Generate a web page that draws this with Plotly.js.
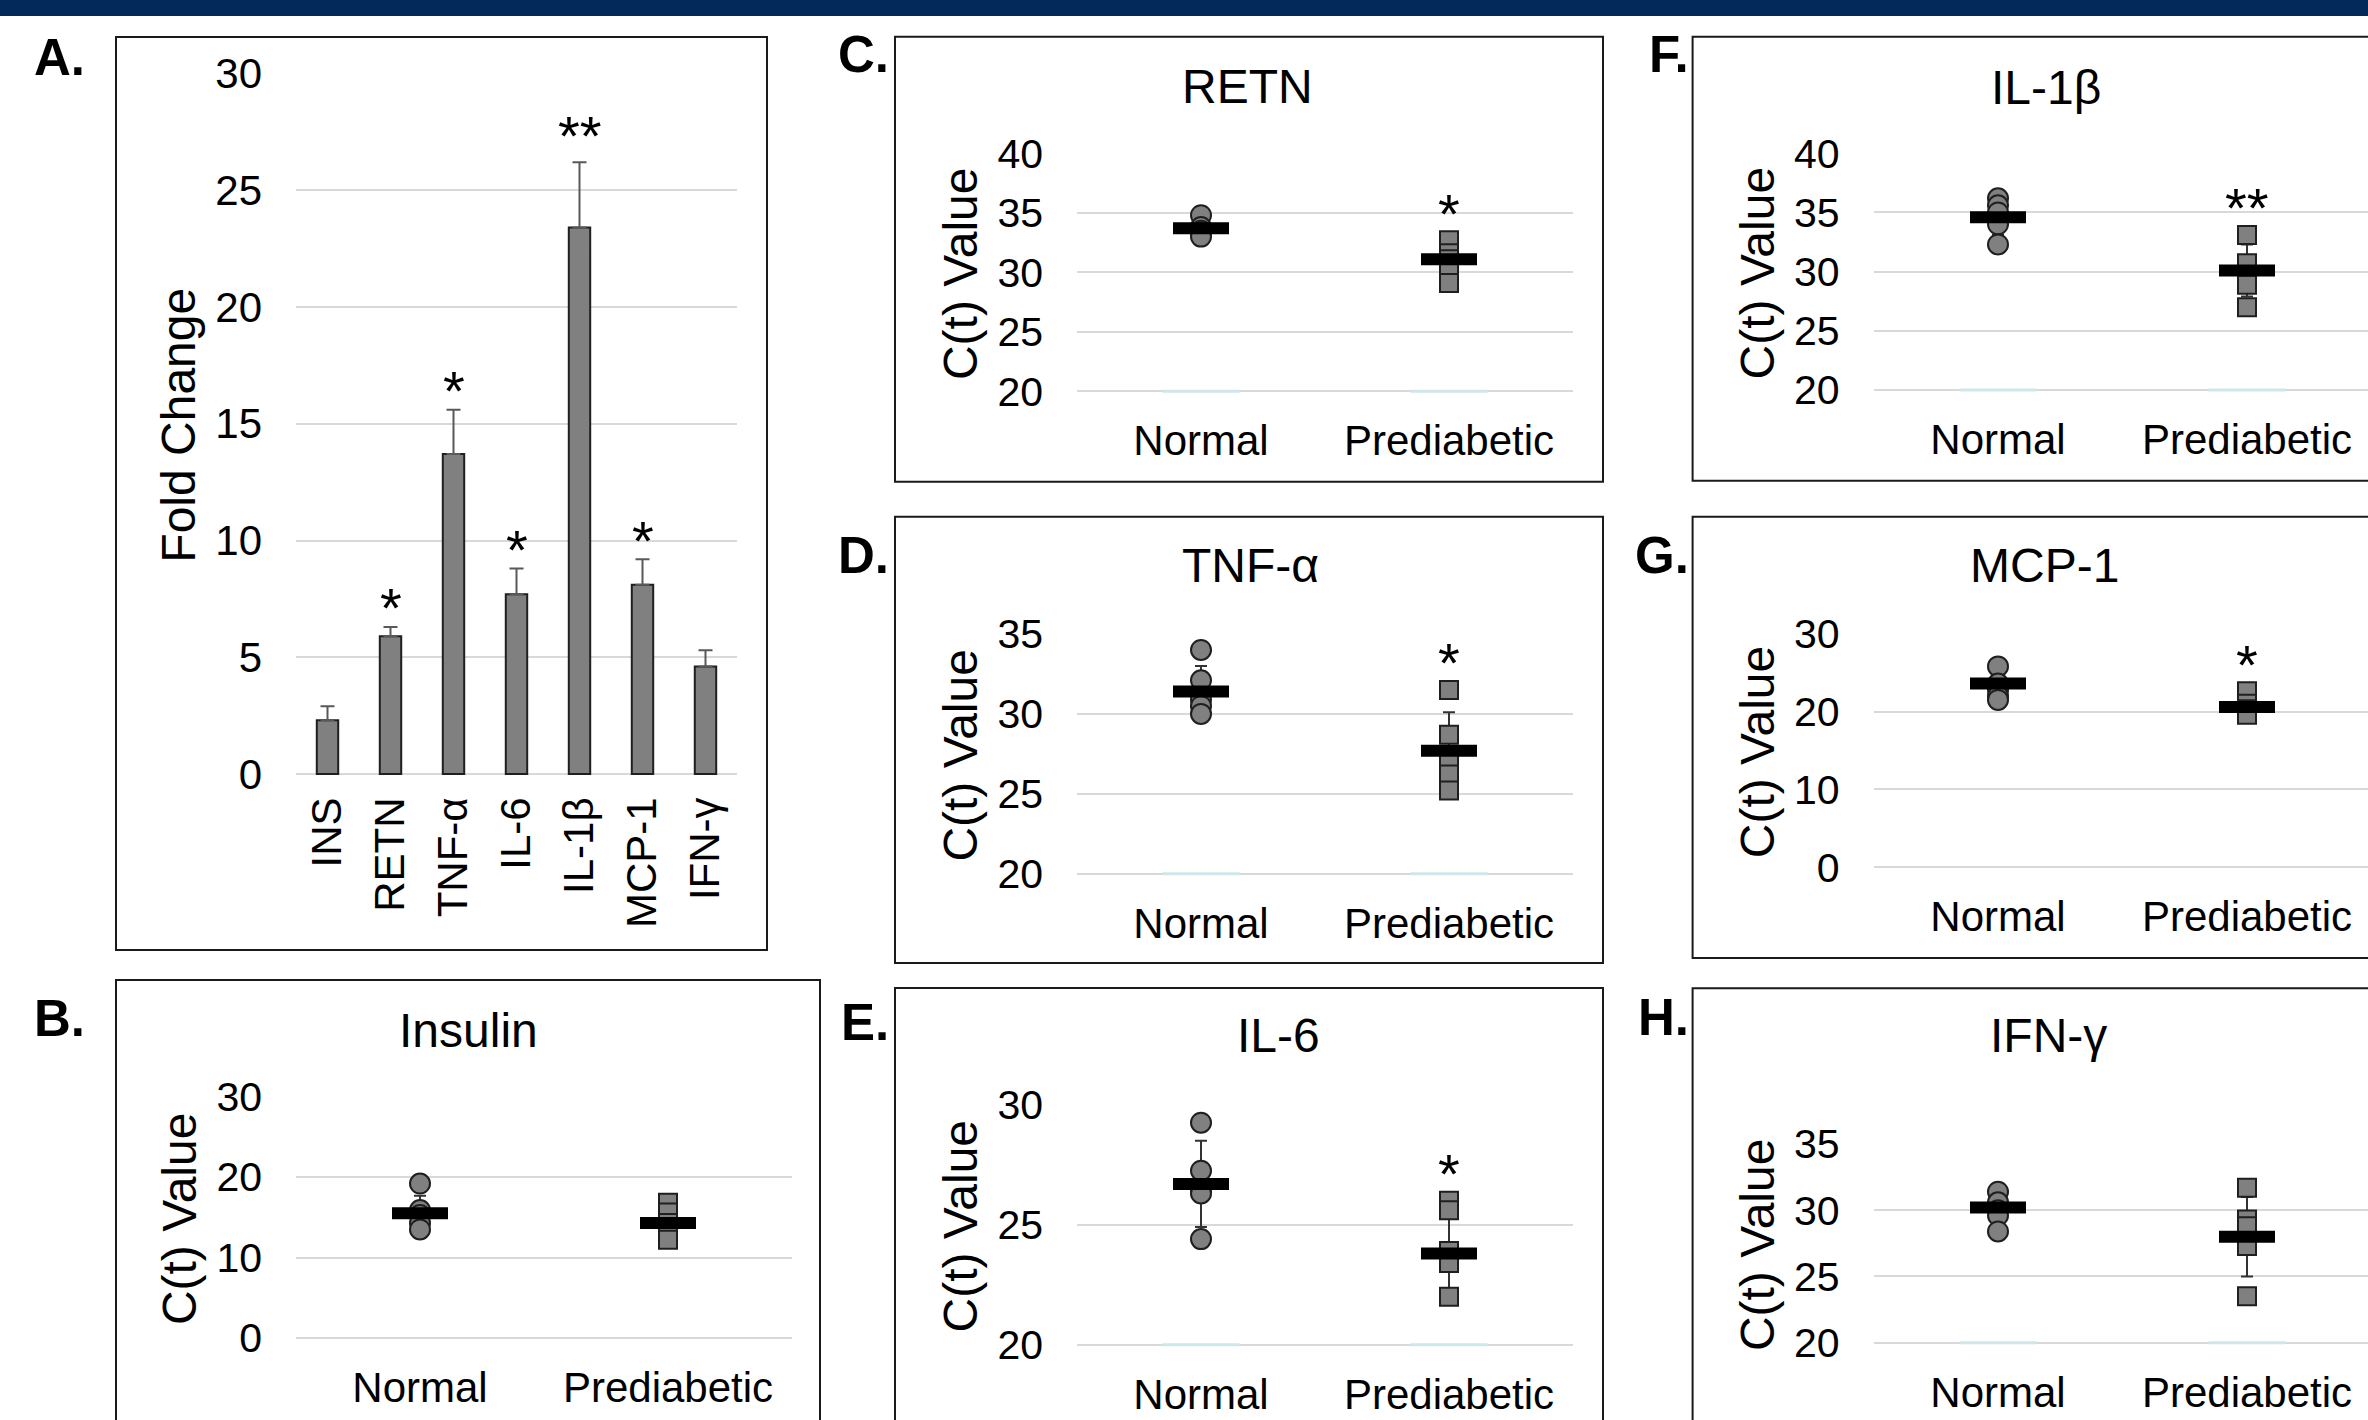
<!DOCTYPE html>
<html><head><meta charset="utf-8">
<script src="https://cdn.plot.ly/plotly-3.0.1.min.js"></script>
<style>html,body{margin:0;padding:0;background:#fff;overflow:hidden;} #chart{width:2368px;height:1420px;}</style>
</head><body><div id="chart"></div>
<script>
// ---------- Panel A: fold change ----------
const foldCats = ['INS', 'RETN', 'TNF-α', 'IL-6', 'IL-1β', 'MCP-1', 'IFN-γ'];
const foldChange = [2.3, 5.9, 13.7, 7.7, 23.4, 8.1, 4.6];
const foldSEM = [0.6, 0.4, 1.9, 1.1, 2.8, 1.1, 0.7];
const foldSig = ['', '*', '*', '*', '**', '*', ''];

// ---------- Panels B-H: C(t) values ----------
const groups = ['Normal', 'Prediabetic'];
const panelGenes = ['Insulin', 'RETN', 'TNF-α', 'IL-6', 'IL-1β', 'MCP-1', 'IFN-γ'];
const panelLetters = ['B.', 'C.', 'D.', 'E.', 'F.', 'G.', 'H.'];
const panelSig = ['', '*', '*', '*', '**', '*', ''];
const yRanges = [[0, 30], [20, 40], [20, 35], [20, 30], [20, 40], [0, 30], [20, 35]];
const yDticks = [10, 5, 5, 5, 5, 10, 5];

const insNormal = [19.2, 15.9, 15.3, 14.3, 13.5];
const insPre = [16.8, 15.6, 14.3, 13.3, 12.2];
const insMean = [15.5, 14.3];
const insSD = [2.2, 1.6];

const retnNormal = [34.8, 33.8, 33.5, 33.3, 33.0];
const retnPre = [32.7, 31.6, 31.1, 30.0, 29.1];
const retnMean = [33.7, 31.1];
const retnSD = [0.7, 1.4];

const tnfNormal = [34.0, 32.1, 30.9, 30.5, 30.0];
const tnfPre = [31.5, 28.7, 27.3, 26.2, 25.2];
const tnfMean = [31.4, 27.7];
const tnfSD = [1.6, 2.4];

const il6Normal = [29.25, 27.25, 26.45, 26.3, 24.4];
const il6Pre = [26.0, 25.6, 23.9, 23.4, 22.0];
const il6Mean = [26.7, 23.8];
const il6SD = [1.8, 1.6];

const il1bNormal = [36.2, 35.6, 35.0, 34.0, 32.3];
const il1bPre = [33.1, 30.7, 29.7, 28.9, 27.0];
const il1bMean = [34.6, 30.1];
const il1bSD = [1.5, 2.2];

const mcpNormal = [25.8, 23.6, 22.8, 22.0, 21.5];
const mcpPre = [22.6, 21.0, 20.3, 19.8, 19.6];
const mcpMean = [23.6, 20.6];
const mcpSD = [1.7, 1.3];

const ifnNormal = [31.4, 30.6, 30.0, 29.6, 28.4];
const ifnPre = [31.7, 29.3, 28.8, 27.3, 23.5];
const ifnMean = [30.2, 28.0];
const ifnSD = [1.1, 3.0];

const normalSets = [insNormal, retnNormal, tnfNormal, il6Normal, il1bNormal, mcpNormal, ifnNormal];
const preSets = [insPre, retnPre, tnfPre, il6Pre, il1bPre, mcpPre, ifnPre];
const meanSets = [insMean, retnMean, tnfMean, il6Mean, il1bMean, mcpMean, ifnMean];
const sdSets = [insSD, retnSD, tnfSD, il6SD, il1bSD, mcpSD, ifnSD];

// ---------- layout geometry (pixels) ----------
const W = 2368, H = 1420;
const fx = v => v / W;
const fy = v => 1 - v / H;
const FONT = 'Liberation Sans, Arial, sans-serif';
const GRID = '#d9d9d9';
const PAD = 3; // extra pixels below the lowest gridline so that it is drawn

// plot rectangles [x0, x1, y0(top), y1(bottom)]: A, B..H
const plotRects = [
  [296, 737, 73.5, 774],
  [296, 792, 1096.7, 1338],
  [1077, 1573, 153.3, 391.3],
  [1077, 1573, 634, 873.7],
  [1077, 1573, 1104.7, 1344.7],
  [1873.5, 2368, 153.3, 390],
  [1873.5, 2368, 633.7, 867.3],
  [1873.5, 2368, 1144, 1342.7]
];
// panel boxes [x0, y0, x1, y1]
const boxes = [
  [116, 37, 767, 950],
  [116, 980, 820, 1445],
  [895, 36.7, 1603, 481.7],
  [895, 516.7, 1603, 963],
  [895, 988, 1603, 1445],
  [1692.6, 36.7, 2400, 480.7],
  [1692.6, 516.7, 2400, 958],
  [1692.6, 988.3, 2400, 1445]
];
const letterPos = [[87, 57], [87, 1018], [891, 55], [891, 555], [891, 1022], [1691, 55], [1691, 555], [1691, 1017]];
const titlePos = [[468, 1030], [1248, 86], [1250, 565], [1278, 1035], [2046, 87], [2044, 565], [2048, 1035]];

// extend a value range a few pixels below its minimum (keeps the scale)
function padRange(rng, r) {
  const per = (r[3] - r[2]) / (rng[1] - rng[0]);
  return [rng[0] - PAD / per, rng[1]];
}
function yDomain(r) { return [fy(r[3] + PAD), fy(r[2])]; }

const traces = [];
const layout = {
  width: W, height: H,
  margin: {l: 0, r: 0, t: 0, b: 0},
  paper_bgcolor: '#ffffff',
  plot_bgcolor: 'rgba(0,0,0,0)',
  showlegend: false,
  font: {family: FONT, color: '#000000'},
  shapes: [],
  annotations: []
};

// top navy band
layout.shapes.push({type: 'rect', xref: 'paper', yref: 'paper', x0: 0, x1: 1, y0: fy(16), y1: 1,
  fillcolor: '#03295a', line: {width: 0}, layer: 'below'});
// panel boxes
boxes.forEach(b => layout.shapes.push({type: 'rect', xref: 'paper', yref: 'paper',
  x0: fx(b[0]), x1: fx(b[2]), y0: fy(b[3]), y1: fy(b[1]),
  line: {color: '#1a1a1a', width: 2}, fillcolor: 'rgba(0,0,0,0)', layer: 'below'}));
// panel letters
['A.'].concat(panelLetters).forEach((t, i) => layout.annotations.push({
  text: t, xref: 'paper', yref: 'paper', x: fx(letterPos[i][0]), y: fy(letterPos[i][1]),
  xanchor: 'right', yanchor: 'middle', showarrow: false,
  font: {family: FONT, size: 51, color: '#000', weight: 'bold'}
}));

// ---------- Panel A ----------
const rA = plotRects[0];
traces.push({
  type: 'bar', x: foldCats, y: foldChange, xaxis: 'x', yaxis: 'y',
  marker: {color: '#808080', line: {color: '#1f1f1f', width: 2}},
  width: 0.34,
  error_y: {type: 'data', symmetric: false, array: foldSEM, arrayminus: foldSEM.map(() => 0),
    color: '#595959', thickness: 2, width: 7},
  hoverinfo: 'x+y'
});
layout.xaxis = {domain: [fx(rA[0]), fx(rA[1])], anchor: 'y', type: 'category', range: [-0.5, 6.5],
  tickangle: -90, tickfont: {size: 42}, showgrid: false, zeroline: false, showline: false,
  ticks: '', ticklabelstandoff: 11};
layout.yaxis = {domain: yDomain(rA), anchor: 'x', range: padRange([0, 30], rA), dtick: 5, tick0: 0,
  gridcolor: GRID, gridwidth: 2, zeroline: false, showline: false, ticks: '',
  tickfont: {size: 42}, ticklabelstandoff: 33,
  title: {text: 'Fold Change', font: {size: 48}, standoff: 4}};
foldCats.forEach((c, i) => {
  if (foldSig[i]) layout.annotations.push({
    text: foldSig[i], xref: 'x', yref: 'y', x: c, y: foldChange[i] + foldSEM[i],
    yanchor: 'middle', yshift: foldSig[i].length > 1 ? 27 : 19, showarrow: false, font: {size: 56, color: '#000'}
  });
});

// ---------- Panels B-H ----------
panelGenes.forEach((gene, p) => {
  const k = p + 2;
  const xa = 'x' + k, ya = 'y' + k;
  const r = plotRects[p + 1];
  const perUnit = r[1] < W ? (r[1] - r[0]) / 2 : 249;
  const xr = [-0.5, -0.5 + (r[1] - r[0]) / perUnit];
  const rng = yRanges[p];
  const mean = meanSets[p], sd = sdSets[p];

  if (rng[0] > 0) {
    traces.push({type: 'scatter', mode: 'markers', x: groups, y: [rng[0], rng[0]], xaxis: xa, yaxis: ya,
      marker: {symbol: 'line-ew', size: 55, line: {color: '#cfe6ea', width: 3}}, hoverinfo: 'skip', cliponaxis: false});
  }
  traces.push({type: 'scatter', mode: 'markers', x: groups, y: mean, xaxis: xa, yaxis: ya,
    marker: {size: 1, color: 'rgba(0,0,0,0)'},
    error_y: {type: 'data', array: sd, color: '#333333', thickness: 2, width: 6},
    hoverinfo: 'skip', cliponaxis: false});
  traces.push({type: 'scatter', mode: 'markers', x: normalSets[p].map(() => groups[0]), y: normalSets[p],
    xaxis: xa, yaxis: ya, cliponaxis: false,
    marker: {symbol: 'circle', size: 20, color: '#808080', line: {color: '#1f1f1f', width: 2}}});
  traces.push({type: 'scatter', mode: 'markers', x: preSets[p].map(() => groups[1]), y: preSets[p],
    xaxis: xa, yaxis: ya, cliponaxis: false,
    marker: {symbol: 'square', size: 18, color: '#808080', line: {color: '#1f1f1f', width: 2}}});
  traces.push({type: 'scatter', mode: 'markers', x: groups, y: mean, xaxis: xa, yaxis: ya, cliponaxis: false,
    marker: {symbol: 'line-ew', size: 40, line: {color: '#000000', width: 12}}});

  layout['xaxis' + k] = {domain: [fx(r[0]), fx(Math.min(r[1], W))], anchor: ya, type: 'category',
    range: xr, tickfont: {size: 42}, showgrid: false, zeroline: false, showline: false,
    ticks: '', ticklabelstandoff: 18};
  layout['yaxis' + k] = {domain: yDomain(r), anchor: xa, range: padRange(rng, r), dtick: yDticks[p], tick0: 0,
    gridcolor: GRID, gridwidth: 2, zeroline: false, showline: false, ticks: '',
    tickfont: {size: 41}, ticklabelstandoff: 33,
    title: {text: 'C(t) Value', font: {size: 48}, standoff: 4}};

  layout.annotations.push({text: gene, xref: 'paper', yref: 'paper',
    x: fx(titlePos[p][0]), y: fy(titlePos[p][1]), xanchor: 'center', yanchor: 'middle',
    showarrow: false, font: {size: 48, color: '#000'}});
  if (panelSig[p]) layout.annotations.push({text: panelSig[p], xref: xa, yref: ya,
    x: groups[1], y: Math.max(...preSets[p]), yanchor: 'middle', yshift: 27,
    showarrow: false, font: {size: 56, color: '#000'}});
});

Plotly.newPlot('chart', traces, layout, {staticPlot: true, displayModeBar: false});
</script>
</body></html>
